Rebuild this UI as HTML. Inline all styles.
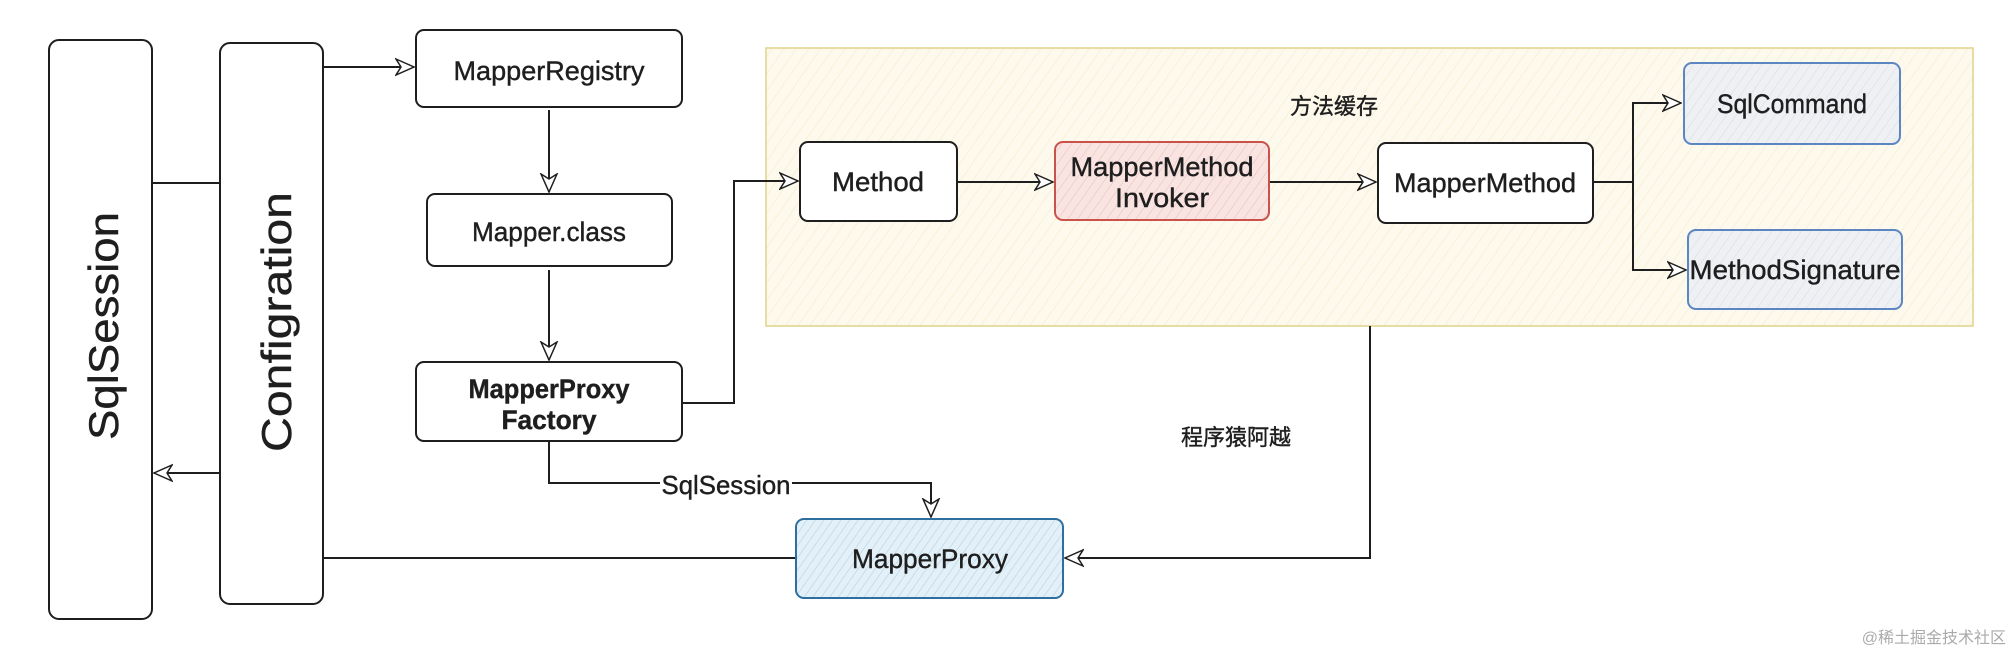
<!DOCTYPE html>
<html><head><meta charset="utf-8"><style>
html,body{margin:0;padding:0;background:#fff;}
svg{display:block;}
text{font-family:"Liberation Sans","Noto Sans CJK SC",sans-serif;fill:#1e1e1e;stroke:#1e1e1e;stroke-width:0.4;}
</style></head><body>
<svg width="2014" height="654" viewBox="0 0 2014 654" xmlns="http://www.w3.org/2000/svg">
<defs>
<pattern id="hy" width="10" height="10" patternUnits="userSpaceOnUse" patternTransform="rotate(35)">
<rect width="10" height="10" fill="#fdf9ec"/><line x1="0" y1="0" x2="0" y2="10" stroke="#f3e9c8" stroke-width="1"/></pattern>
<pattern id="hr" width="8" height="8" patternUnits="userSpaceOnUse" patternTransform="rotate(35)">
<rect width="8" height="8" fill="#f9e4e2"/><line x1="0" y1="0" x2="0" y2="8" stroke="#e8bdb8" stroke-width="1"/></pattern>
<pattern id="hb" width="7" height="7" patternUnits="userSpaceOnUse" patternTransform="rotate(35)">
<rect width="7" height="7" fill="#e3f0f8"/><line x1="0" y1="0" x2="0" y2="7" stroke="#a9cde3" stroke-width="1"/></pattern>
<pattern id="hg" width="8" height="8" patternUnits="userSpaceOnUse" patternTransform="rotate(35)">
<rect width="8" height="8" fill="#eef0f3"/><line x1="0" y1="0" x2="0" y2="8" stroke="#d6dbe2" stroke-width="1"/></pattern>
<marker id="ar" viewBox="0 0 20 20" refX="19" refY="10" markerWidth="20" markerHeight="20" markerUnits="userSpaceOnUse" orient="auto">
<path d="M1,2 L19,10 L1,18 L6,10 Z" fill="#fff" stroke="#1e1e1e" stroke-width="1.5"/></marker>
</defs>

<rect x="766" y="48" width="1207" height="278" fill="url(#hy)" stroke="#e2d28a" stroke-width="1.5"/>

<g fill="none" stroke="#1e1e1e" stroke-width="2">
<line x1="152" y1="183" x2="220" y2="183"/>
<line x1="220" y1="473" x2="154" y2="473" marker-end="url(#ar)"/>
<line x1="323" y1="67" x2="414" y2="67" marker-end="url(#ar)"/>
<line x1="549" y1="110" x2="549" y2="192" marker-end="url(#ar)"/>
<line x1="549" y1="270" x2="549" y2="360" marker-end="url(#ar)"/>
<polyline points="682,403 734,403 734,181 798,181" marker-end="url(#ar)"/>
<polyline points="549,441 549,483 931,483 931,517" marker-end="url(#ar)"/>
<line x1="323" y1="558" x2="796" y2="558"/>
<polyline points="1370,326 1370,558 1065,558" marker-end="url(#ar)"/>
<line x1="957" y1="182" x2="1053" y2="182" marker-end="url(#ar)"/>
<line x1="1269" y1="182" x2="1376" y2="182" marker-end="url(#ar)"/>
<polyline points="1593,182 1633,182 1633,103 1681,103" marker-end="url(#ar)"/>
<polyline points="1633,182 1633,270 1686,270" marker-end="url(#ar)"/>
</g>

<g stroke="#1e1e1e" stroke-width="2">
<rect x="49" y="40" width="103" height="579" rx="10" fill="#fff"/>
<rect x="220" y="43" width="103" height="561" rx="10" fill="#fff"/>
<rect x="416" y="30" width="266" height="77" rx="8" fill="#fff"/>
<rect x="427" y="194" width="245" height="72" rx="8" fill="#fff"/>
<rect x="416" y="362" width="266" height="79" rx="8" fill="#fff"/>
<rect x="800" y="142" width="157" height="79" rx="8" fill="#fff"/>
<rect x="1378" y="143" width="215" height="80" rx="8" fill="#fff"/>
</g>
<rect x="1055" y="142" width="214" height="78" rx="8" fill="url(#hr)" stroke="#c9524b" stroke-width="2"/>
<rect x="1684" y="63" width="216" height="81" rx="8" fill="url(#hg)" stroke="#5b86c2" stroke-width="2"/>
<rect x="1688" y="230" width="214" height="79" rx="8" fill="url(#hg)" stroke="#5b86c2" stroke-width="2"/>
<rect x="796" y="519" width="267" height="79" rx="8" fill="url(#hb)" stroke="#2f6f9f" stroke-width="2"/>

<text transform="translate(118,440) rotate(-90)" font-size="42" textLength="228" lengthAdjust="spacingAndGlyphs">SqlSession</text>
<text transform="translate(291,452) rotate(-90)" font-size="42" textLength="260" lengthAdjust="spacingAndGlyphs">Configration</text>
<g font-size="27" text-anchor="middle">
<text x="549" y="80" textLength="191" lengthAdjust="spacingAndGlyphs">MapperRegistry</text>
<text x="549" y="241" textLength="154" lengthAdjust="spacingAndGlyphs">Mapper.class</text>
<text x="549" y="398" font-weight="bold" textLength="161" lengthAdjust="spacingAndGlyphs">MapperProxy</text>
<text x="549" y="429" font-weight="bold" textLength="95" lengthAdjust="spacingAndGlyphs">Factory</text>
<text x="878" y="191" textLength="92" lengthAdjust="spacingAndGlyphs">Method</text>
<text x="1162" y="176" textLength="183" lengthAdjust="spacingAndGlyphs">MapperMethod</text>
<text x="1162" y="207" textLength="94" lengthAdjust="spacingAndGlyphs">Invoker</text>
<text x="1485" y="192" textLength="182" lengthAdjust="spacingAndGlyphs">MapperMethod</text>
<text x="1792" y="113" textLength="150" lengthAdjust="spacingAndGlyphs">SqlCommand</text>
<text x="1795" y="279" textLength="211" lengthAdjust="spacingAndGlyphs">MethodSignature</text>
<text x="930" y="568" textLength="156" lengthAdjust="spacingAndGlyphs">MapperProxy</text>
</g>
<rect x="660" y="472" width="132" height="26" fill="#fff"/>
<text x="726" y="494" font-size="26" text-anchor="middle" textLength="129" lengthAdjust="spacingAndGlyphs">SqlSession</text>
<text x="1334" y="114" font-size="22" text-anchor="middle">方法缓存</text>
<text x="1236" y="445" font-size="22" text-anchor="middle">程序猿阿越</text>
<text x="2006" y="643" font-size="16" text-anchor="end" style="fill:#aaa;stroke:none">@稀土掘金技术社区</text>
</svg>
</body></html>
